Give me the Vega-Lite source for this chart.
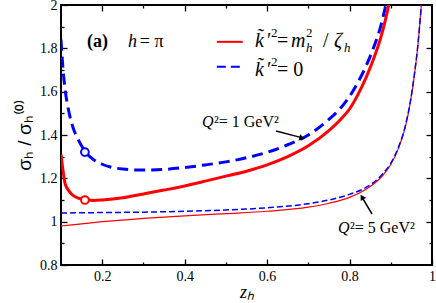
{
  "$schema": "https://vega.github.io/schema/vega-lite/v6.json",
  "width": 371,
  "height": 260,
  "autosize": {"type": "none"},
  "padding": {"left": 61, "top": 5, "right": 4, "bottom": 38},
  "background": "white",
  "config": {
    "view": {"stroke": "black", "strokeWidth": 2},
    "axis": {"domain": false, "grid": false, "tickColor": "black", "tickWidth": 1.3, "labelFont": "Liberation Serif", "labelFontSize": 14, "labelColor": "black", "titleColor": "black"}
  },
  "resolve": {"axis": {"x": "independent", "y": "independent"}},
  "layer": [
    {
      "data": {"values": [
        {"z": 0.1, "r": 0.98}, {"z": 0.15, "r": 0.99}, {"z": 0.2, "r": 1.0}, {"z": 0.3, "r": 1.015},
        {"z": 0.4, "r": 1.027}, {"z": 0.5, "r": 1.037}, {"z": 0.6, "r": 1.048}, {"z": 0.7, "r": 1.067},
        {"z": 0.75, "r": 1.085}, {"z": 0.8, "r": 1.112}, {"z": 0.84, "r": 1.15}, {"z": 0.86, "r": 1.176},
        {"z": 0.88, "r": 1.212}, {"z": 0.9, "r": 1.264}, {"z": 0.92, "r": 1.345}, {"z": 0.935, "r": 1.435},
        {"z": 0.948, "r": 1.556}, {"z": 0.958, "r": 1.687}, {"z": 0.966, "r": 1.818}, {"z": 0.972, "r": 1.95},
        {"z": 0.976, "r": 2.05}
      ]},
      "mark": {"type": "line", "color": "#ff0000", "strokeWidth": 1.2, "interpolate": "monotone", "clip": true},
      "encoding": {
        "x": {"field": "z", "type": "quantitative", "scale": {"domain": [0.1, 1], "nice": false, "zero": false},
          "axis": {"orient": "bottom", "values": [0.2, 0.4, 0.6, 0.8, 1], "tickSize": -6, "labelPadding": 10, "format": "~g", "labelFlush": false,
            "title": "zₕ", "titleFont": "Liberation Serif", "titleFontStyle": "italic", "titleFontWeight": "normal", "titleFontSize": 18, "titlePadding": 0}},
        "y": {"field": "r", "type": "quantitative", "scale": {"domain": [0.8, 2], "nice": false, "zero": false},
          "axis": {"orient": "left", "values": [0.8, 1, 1.2, 1.4, 1.6, 1.8, 2], "tickSize": -6, "labelPadding": 10, "format": "~g", "labelFlush": false,
            "title": "σₕ / σₕ⁽⁰⁾", "titleFont": "Liberation Sans", "titleFontWeight": "normal", "titleFontSize": 19, "titlePadding": 5}}
      }
    },
    {
      "data": {"values": [
        {"z": 0.1, "r": 1.04}, {"z": 0.2, "r": 1.042}, {"z": 0.3, "r": 1.044}, {"z": 0.4, "r": 1.048},
        {"z": 0.5, "r": 1.054}, {"z": 0.6, "r": 1.064}, {"z": 0.7, "r": 1.083}, {"z": 0.75, "r": 1.1},
        {"z": 0.8, "r": 1.126}, {"z": 0.84, "r": 1.158}, {"z": 0.86, "r": 1.183}, {"z": 0.88, "r": 1.22},
        {"z": 0.9, "r": 1.27}, {"z": 0.92, "r": 1.35}, {"z": 0.935, "r": 1.44}, {"z": 0.948, "r": 1.56},
        {"z": 0.958, "r": 1.69}, {"z": 0.966, "r": 1.82}, {"z": 0.972, "r": 1.95}, {"z": 0.976, "r": 2.05}
      ]},
      "mark": {"type": "line", "color": "#0000ff", "strokeWidth": 1.5, "strokeDash": [6, 3], "interpolate": "monotone", "clip": true},
      "encoding": {
        "x": {"field": "z", "type": "quantitative", "axis": {"orient": "top", "values": [0.2, 0.4, 0.6, 0.8], "tickSize": -6, "labels": false, "title": null}},
        "y": {"field": "r", "type": "quantitative", "axis": {"orient": "right", "values": [1, 1.2, 1.4, 1.6, 1.8], "tickSize": -6, "labels": false, "title": null}}
      }
    },
    {
      "data": {"values": [
        {"z": 0.1, "r": 1.84}, {"z": 0.105, "r": 1.7}, {"z": 0.11, "r": 1.61}, {"z": 0.12, "r": 1.5},
        {"z": 0.13, "r": 1.43}, {"z": 0.14, "r": 1.385}, {"z": 0.15, "r": 1.35}, {"z": 0.158, "r": 1.325},
        {"z": 0.17, "r": 1.3}, {"z": 0.18, "r": 1.285}, {"z": 0.2, "r": 1.265}, {"z": 0.22, "r": 1.252},
        {"z": 0.25, "r": 1.243}, {"z": 0.3, "r": 1.238}, {"z": 0.35, "r": 1.241}, {"z": 0.4, "r": 1.25},
        {"z": 0.45, "r": 1.262}, {"z": 0.5, "r": 1.276}, {"z": 0.55, "r": 1.295}, {"z": 0.6, "r": 1.32},
        {"z": 0.65, "r": 1.355}, {"z": 0.7, "r": 1.4}, {"z": 0.75, "r": 1.472}, {"z": 0.78, "r": 1.528},
        {"z": 0.8, "r": 1.578}, {"z": 0.82, "r": 1.642}, {"z": 0.84, "r": 1.718}, {"z": 0.86, "r": 1.812},
        {"z": 0.875, "r": 1.898}, {"z": 0.885, "r": 1.975}, {"z": 0.892, "r": 2.04}
      ]},
      "mark": {"type": "line", "color": "#0000ff", "strokeWidth": 3, "strokeDash": [11, 6], "interpolate": "monotone", "clip": true},
      "encoding": {
        "x": {"field": "z", "type": "quantitative", "axis": {"orient": "bottom", "values": [0.3, 0.5, 0.7, 0.9], "tickSize": -3, "labels": false, "title": null}},
        "y": {"field": "r", "type": "quantitative", "axis": {"orient": "left", "values": [0.9, 1.1, 1.3, 1.5, 1.7, 1.9], "tickSize": -3, "labels": false, "title": null}}
      }
    },
    {
      "data": {"values": [
        {"z": 0.1, "r": 1.31}, {"z": 0.105, "r": 1.235}, {"z": 0.11, "r": 1.175}, {"z": 0.12, "r": 1.14},
        {"z": 0.13, "r": 1.12}, {"z": 0.14, "r": 1.11}, {"z": 0.158, "r": 1.103}, {"z": 0.18, "r": 1.098},
        {"z": 0.2, "r": 1.1}, {"z": 0.25, "r": 1.11}, {"z": 0.3, "r": 1.128}, {"z": 0.35, "r": 1.146},
        {"z": 0.4, "r": 1.165}, {"z": 0.45, "r": 1.187}, {"z": 0.5, "r": 1.21}, {"z": 0.55, "r": 1.233},
        {"z": 0.6, "r": 1.262}, {"z": 0.65, "r": 1.3}, {"z": 0.7, "r": 1.35}, {"z": 0.75, "r": 1.42},
        {"z": 0.78, "r": 1.475}, {"z": 0.8, "r": 1.52}, {"z": 0.82, "r": 1.585}, {"z": 0.84, "r": 1.665},
        {"z": 0.86, "r": 1.76}, {"z": 0.875, "r": 1.845}, {"z": 0.885, "r": 1.915}, {"z": 0.895, "r": 2.0},
        {"z": 0.9, "r": 2.05}
      ]},
      "mark": {"type": "line", "color": "#ff0000", "strokeWidth": 3, "interpolate": "monotone", "clip": true},
      "encoding": {
        "x": {"field": "z", "type": "quantitative", "axis": {"orient": "top", "values": [0.3, 0.5, 0.7, 0.9], "tickSize": -3, "labels": false, "title": null}},
        "y": {"field": "r", "type": "quantitative", "axis": {"orient": "right", "values": [0.9, 1.1, 1.3, 1.5, 1.7, 1.9], "tickSize": -3, "labels": false, "title": null}}
      }
    },
    {
      "data": {"values": [{"z": 0.158, "r": 1.321, "c": "blue"}, {"z": 0.158, "r": 1.1, "c": "red"}]},
      "mark": {"type": "point", "shape": "circle", "filled": true, "fill": "white", "size": 60, "strokeWidth": 2, "opacity": 1},
      "encoding": {
        "x": {"field": "z", "type": "quantitative", "axis": null},
        "y": {"field": "r", "type": "quantitative", "axis": null},
        "stroke": {"field": "c", "type": "nominal", "scale": {"domain": ["blue", "red"], "range": ["#0000ff", "#ff0000"]}, "legend": null}
      }
    },
    {
      "data": {"values": [{"z1": 0.478, "z2": 0.541, "r": 1.83}]},
      "mark": {"type": "rule", "color": "#ff0000", "strokeWidth": 2},
      "encoding": {
        "x": {"field": "z1", "type": "quantitative", "axis": null}, "x2": {"field": "z2"},
        "y": {"field": "r", "type": "quantitative", "axis": null}
      }
    },
    {
      "data": {"values": [{"z1": 0.478, "z2": 0.541, "r": 1.715}]},
      "mark": {"type": "rule", "color": "#0000ff", "strokeWidth": 2, "strokeDash": [9, 5]},
      "encoding": {
        "x": {"field": "z1", "type": "quantitative", "axis": null}, "x2": {"field": "z2"},
        "y": {"field": "r", "type": "quantitative", "axis": null}
      }
    },
    {
      "data": {"values": [
        {"z": 0.5706, "r": 1.806, "t": "k̃"}, {"z": 0.658, "r": 1.806, "t": "m"}, {"z": 0.7623, "r": 1.806, "t": "ζ"},
        {"z": 0.5706, "r": 1.672, "t": "k̃"}
      ]},
      "mark": {"type": "text", "font": "Liberation Serif", "fontStyle": "italic", "fontSize": 20, "align": "left", "baseline": "alphabetic", "color": "black"},
      "encoding": {"x": {"field": "z", "type": "quantitative", "axis": null}, "y": {"field": "r", "type": "quantitative", "axis": null}, "text": {"field": "t"}}
    },
    {
      "data": {"values": [
        {"z": 0.5998, "r": 1.806, "t": "′"}, {"z": 0.624, "r": 1.806, "t": "="}, {"z": 0.7356, "r": 1.806, "t": "/"},
        {"z": 0.5998, "r": 1.672, "t": "′"}, {"z": 0.624, "r": 1.672, "t": "= 0"}
      ]},
      "mark": {"type": "text", "font": "Liberation Serif", "fontSize": 20, "align": "left", "baseline": "alphabetic", "color": "black"},
      "encoding": {"x": {"field": "z", "type": "quantitative", "axis": null}, "y": {"field": "r", "type": "quantitative", "axis": null}, "text": {"field": "t"}}
    },
    {
      "data": {"values": [
        {"z": 0.6095, "r": 1.852, "t": "2"}, {"z": 0.6944, "r": 1.852, "t": "2"}, {"z": 0.6095, "r": 1.718, "t": "2"}
      ]},
      "mark": {"type": "text", "font": "Liberation Serif", "fontSize": 13, "align": "left", "baseline": "alphabetic", "color": "black"},
      "encoding": {"x": {"field": "z", "type": "quantitative", "axis": null}, "y": {"field": "r", "type": "quantitative", "axis": null}, "text": {"field": "t"}}
    },
    {
      "data": {"values": [
        {"z": 0.6944, "r": 1.783, "t": "h"}, {"z": 0.7866, "r": 1.783, "t": "h"}
      ]},
      "mark": {"type": "text", "font": "Liberation Serif", "fontStyle": "italic", "fontSize": 13, "align": "left", "baseline": "alphabetic", "color": "black"},
      "encoding": {"x": {"field": "z", "type": "quantitative", "axis": null}, "y": {"field": "r", "type": "quantitative", "axis": null}, "text": {"field": "t"}}
    },
    {
      "data": {"values": [{"z": 0.163, "r": 1.806, "t": "(a)"}]},
      "mark": {"type": "text", "font": "Liberation Serif", "fontWeight": "bold", "fontSize": 18, "align": "left", "baseline": "alphabetic", "color": "black"},
      "encoding": {"x": {"field": "z", "type": "quantitative", "axis": null}, "y": {"field": "r", "type": "quantitative", "axis": null}, "text": {"field": "t"}}
    },
    {
      "data": {"values": [{"z": 0.2625, "r": 1.806, "t": "h"}]},
      "mark": {"type": "text", "font": "Liberation Serif", "fontStyle": "italic", "fontSize": 18, "align": "left", "baseline": "alphabetic", "color": "black"},
      "encoding": {"x": {"field": "z", "type": "quantitative", "axis": null}, "y": {"field": "r", "type": "quantitative", "axis": null}, "text": {"field": "t"}}
    },
    {
      "data": {"values": [{"z": 0.291, "r": 1.806, "t": "= π"}]},
      "mark": {"type": "text", "font": "Liberation Serif", "fontSize": 18, "align": "left", "baseline": "alphabetic", "color": "black"},
      "encoding": {"x": {"field": "z", "type": "quantitative", "axis": null}, "y": {"field": "r", "type": "quantitative", "axis": null}, "text": {"field": "t"}}
    },
    {
      "data": {"values": [{"z": 0.442, "r": 1.437, "t": "Q"}, {"z": 0.772, "r": 0.948, "t": "Q"}]},
      "mark": {"type": "text", "font": "Liberation Serif", "fontStyle": "italic", "fontSize": 16, "align": "left", "baseline": "alphabetic", "color": "black"},
      "encoding": {"x": {"field": "z", "type": "quantitative", "axis": null}, "y": {"field": "r", "type": "quantitative", "axis": null}, "text": {"field": "t"}}
    },
    {
      "data": {"values": [{"z": 0.471, "r": 1.437, "t": "²= 1 GeV²"}, {"z": 0.801, "r": 0.948, "t": "²= 5 GeV²"}]},
      "mark": {"type": "text", "font": "Liberation Serif", "fontSize": 16, "align": "left", "baseline": "alphabetic", "color": "black"},
      "encoding": {"x": {"field": "z", "type": "quantitative", "axis": null}, "y": {"field": "r", "type": "quantitative", "axis": null}, "text": {"field": "t"}}
    },
    {
      "data": {"values": [
        {"z1": 0.6216, "r1": 1.4184, "z2": 0.681, "r2": 1.389},
        {"z1": 0.8545, "r1": 1.0354, "z2": 0.8315, "r2": 1.109}
      ]},
      "mark": {"type": "rule", "color": "black", "strokeWidth": 1.5},
      "encoding": {
        "x": {"field": "z1", "type": "quantitative", "axis": null}, "x2": {"field": "z2"},
        "y": {"field": "r1", "type": "quantitative", "axis": null}, "y2": {"field": "r2"}
      }
    },
    {
      "data": {"values": [
        {"z": 0.6847, "r": 1.386, "a": 13.6},
        {"z": 0.8302, "r": 1.1138, "a": 238}
      ]},
      "mark": {"type": "point", "shape": "triangle-right", "filled": true, "color": "black", "size": 40, "opacity": 1},
      "encoding": {
        "x": {"field": "z", "type": "quantitative", "axis": null},
        "y": {"field": "r", "type": "quantitative", "axis": null},
        "angle": {"field": "a", "type": "quantitative", "scale": null}
      }
    }
  ]
}
